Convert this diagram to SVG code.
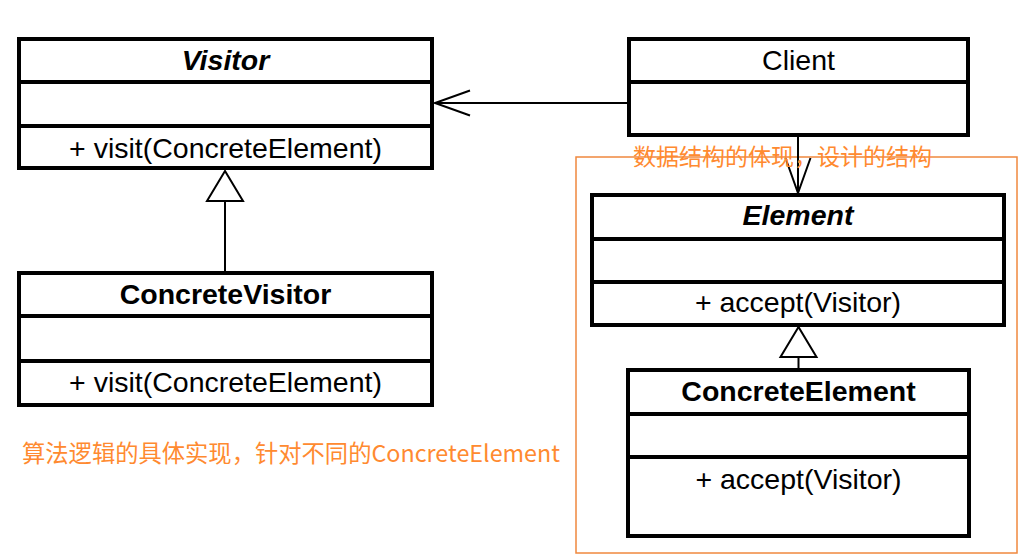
<svg xmlns="http://www.w3.org/2000/svg" width="1021" height="560" viewBox="0 0 1021 560">
<style>
.box{fill:#fff;stroke:#000;stroke-width:4}
.div{stroke:#000;stroke-width:4}
.t{font-family:"Liberation Sans",Arial,sans-serif;font-size:28.5px;fill:#000;text-anchor:middle}
.b{font-weight:bold}
.bi{font-weight:bold;font-style:italic}
.conn{stroke:#000;stroke-width:2;fill:none}
.note{font-family:"Noto Sans CJK SC","Noto Sans",sans-serif;font-size:23px;fill:#FF8A30}
.frame{fill:none;stroke:#F0883E;stroke-width:1.5}
</style>
<defs>
<marker id="open" markerUnits="userSpaceOnUse" viewBox="-38 -16 42 32" refX="0" refY="0" markerWidth="42" markerHeight="32" orient="auto">
<path d="M-35,-12.5 L0,0 L-35,12.5" fill="none" stroke="#000" stroke-width="2"/>
</marker>
<marker id="tri" markerUnits="userSpaceOnUse" viewBox="-34 -22 38 44" refX="0" refY="0" markerWidth="38" markerHeight="44" orient="auto">
<path d="M0,0 L-30,-18 L-30,18 Z" fill="#fff" stroke="#000" stroke-width="2"/>
</marker>
</defs>
<rect x="0" y="0" width="1021" height="560" fill="#fff"/>

<g id="frame-structure">
<rect class="frame" x="576" y="157" width="441" height="396"/>
</g>

<g id="connectors">
<line class="conn" x1="627" y1="103" x2="435" y2="103" marker-end="url(#open)"/>
<line class="conn" x1="798" y1="137" x2="798" y2="193" marker-end="url(#open)"/>
<line class="conn" x1="225" y1="271" x2="225" y2="171" marker-end="url(#tri)"/>
<line class="conn" x1="798.5" y1="368" x2="798.5" y2="327" marker-end="url(#tri)"/>
</g>

<g id="visitor">
<rect class="box" x="19" y="39" width="413" height="129"/>
<line class="div" x1="19" y1="82" x2="432" y2="82"/>
<line class="div" x1="19" y1="126" x2="432" y2="126"/>
<text class="t bi" x="225.5" y="70">Visitor</text>
<text class="t" x="225.5" y="158">+ visit(ConcreteElement)</text>
</g>

<g id="concrete-visitor">
<rect class="box" x="19" y="273" width="413" height="132"/>
<line class="div" x1="19" y1="316" x2="432" y2="316"/>
<line class="div" x1="19" y1="361" x2="432" y2="361"/>
<text class="t b" x="225.5" y="304">ConcreteVisitor</text>
<text class="t" x="225.5" y="392">+ visit(ConcreteElement)</text>
</g>

<g id="client">
<rect class="box" x="629" y="39" width="339" height="96"/>
<line class="div" x1="629" y1="82" x2="968" y2="82"/>
<text class="t" x="798.5" y="70">Client</text>
</g>

<g id="element">
<rect class="box" x="592" y="195" width="412" height="130"/>
<line class="div" x1="592" y1="239" x2="1004" y2="239"/>
<line class="div" x1="592" y1="282" x2="1004" y2="282"/>
<text class="t bi" x="798" y="225">Element</text>
<text class="t" x="798" y="312">+ accept(Visitor)</text>
</g>

<g id="concrete-element">
<rect class="box" x="628" y="370" width="341" height="166"/>
<line class="div" x1="628" y1="414" x2="969" y2="414"/>
<line class="div" x1="628" y1="457" x2="969" y2="457"/>
<text class="t b" x="798.5" y="401">ConcreteElement</text>
<text class="t" x="798.5" y="489">+ accept(Visitor)</text>
</g>

<g id="notes">
<text class="note" x="633" y="165">数据结构的体现，设计的结构</text>
<text class="note" x="22" y="462" style="font-size:23.3px">算法逻辑的具体实现，针对不同的ConcreteElement</text>
</g>
</svg>
